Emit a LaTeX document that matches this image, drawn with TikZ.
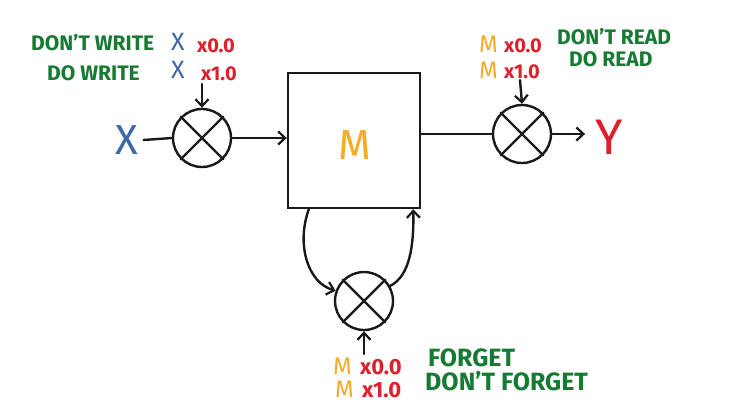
\documentclass[tikz,border=0pt]{standalone}
\usepackage{fontspec}
\setmainfont{Fira Sans}
\usetikzlibrary{arrows.meta,calc}
\definecolor{hgreen}{RGB}{22,122,50}
\definecolor{hblue}{RGB}{62,104,165}
\definecolor{hred}{RGB}{222,32,44}
\definecolor{horange}{RGB}{247,172,40}
\tikzset{
  ink/.style={line width=2.4pt,draw=black!90,line cap=round},
  arr/.style={ink,-{Straight Barb[length=7pt,width=13pt,line width=2.2pt]}},
  mult/.style={circle,ink,minimum size=58pt,inner sep=0pt},
  gtxt/.style={text=hgreen,font=\fontsize{21}{22}\selectfont\bfseries,inner sep=0pt},
  gbig/.style={text=hgreen,font=\fontsize{25}{26}\selectfont\bfseries,inner sep=0pt},
  rtxt/.style={text=hred,font=\fontsize{20}{22}\selectfont\bfseries,inner sep=0pt},
  rbig/.style={text=hred,font=\fontsize{22}{24}\selectfont\bfseries,inner sep=0pt},
  btxt/.style={text=hblue,font=\fontsize{25}{26}\selectfont,inner sep=0pt},
  otxt/.style={text=horange,font=\fontsize{24}{24}\selectfont,inner sep=0pt},
}
\begin{document}
\begin{tikzpicture}[x=1pt,y=-1pt]
\useasboundingbox[fill=white] (0,0) rectangle (736,407);
% box
\node[ink,draw,minimum width=132pt,minimum height=135pt,inner sep=0pt] (box) at (354,140.5) {};
\node[text=horange,font=\fontsize{42}{44}\selectfont,inner sep=0pt] (mbox) at (355,145) {M};
% multipliers
\node[mult,draw] (cw) at (202,138) {};
\node[mult,draw] (cr) at (522,134) {};
\node[mult,draw] (cf) at (364,301) {};
\foreach \c in {cw,cr,cf}{
  \draw[ink] (\c.north east) -- (\c.south west);
  \draw[ink] (\c.north west) -- (\c.south east);
}
% input / output
\node[text=hblue,font=\fontsize{42}{44}\selectfont,inner sep=0pt] (x) at (127,140) {X};
\node[text=hred,font=\fontsize{50}{52}\selectfont,inner sep=0pt] (y) at (609,137) {Y};
\coordinate (xs) at ($(x.east)+(5,0)$);
\draw[ink] (xs) -- (cw.west);
\draw[arr] (cw.east) -- (box.west |- cw.east);
\draw[ink] (box.east |- cr.west) -- (cr.west);
\coordinate (ye) at ($(y.west)+(-10,-3)$);
\draw[arr] (cr.east) -- (ye);
% control arrows
\coordinate (wtop) at (202,84);
\draw[arr] (wtop) -- (cw.north);
\coordinate (rtop) at (520,80);
\draw[arr] (rtop) -- (cr.north);
\coordinate (fbot) at (364,354);
\draw[arr] (fbot) -- (cf.south);
% loop
\coordinate (b1) at ($(box.south west)+(22,0)$);
\coordinate (b2) at ($(box.south east)+(-8,0)$);
\draw[arr] (b1) .. controls (296,245) and (308,283) .. (cf.160);
\draw[arr] (cf.30) .. controls (410,276) and (414,245) .. (b2);
% write labels
\node[gtxt,anchor=base west] (dw) at (31,50) {DON'T WRITE};
\node[btxt,anchor=base west] (dwx) at (171,50) {X};
\node[rtxt,anchor=base west] (dwn) at (197,52) {x0.0};
\node[gtxt,anchor=base west] (ww) at (47,80) {DO WRITE};
\node[btxt,anchor=base west] (wwx) at (171,78) {X};
\node[rtxt,anchor=base west] (wwn) at (201,80) {x1.0};
% read labels
\node[otxt,anchor=base west] (rm0) at (479,52) {M};
\node[rtxt,anchor=base west] (rn0) at (504,52) {x0.0};
\node[gtxt,anchor=base west] (rg0) at (557,44) {DON'T READ};
\node[otxt,anchor=base west] (rm1) at (479,78) {M};
\node[rtxt,anchor=base west] (rn1) at (504,78) {x1.0};
\node[gtxt,anchor=base west] (rg1) at (569,66) {DO READ};
% forget labels
\node[otxt,anchor=base west] (fm0) at (333,374) {M};
\node[rbig,anchor=base west] (fn0) at (360,374) {x0.0};
\node[gbig,anchor=base west] (fg0) at (428,366) {FORGET};
\node[otxt,anchor=base west] (fm1) at (335,397) {M};
\node[rbig,anchor=base west] (fn1) at (362,397) {x1.0};
\node[gbig,anchor=base west] (fg1) at (425,390) {DON'T FORGET};
\end{tikzpicture}
\end{document}
